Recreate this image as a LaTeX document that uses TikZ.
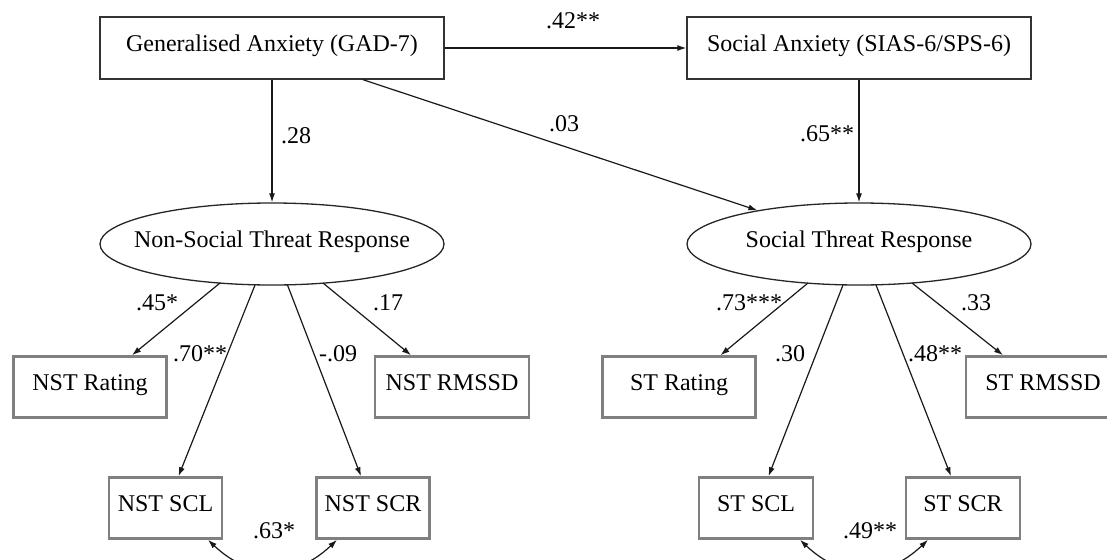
\documentclass[tikz,border=0pt]{standalone}
\usepackage{fontspec}
\setmainfont{Liberation Serif}
\usetikzlibrary{arrows.meta,calc,shapes.geometric}
\begin{document}
\begin{tikzpicture}[x=1pt,y=-1pt,
  every node/.style={font=\fontsize{24}{28}\selectfont, inner sep=0pt},
  topbox/.style={draw=black!80, line width=1.4pt, minimum width=344pt, minimum height=62pt, text height=0.75em, text depth=0pt},
  latent/.style={ellipse, draw=black!85, line width=1.3pt, minimum width=344pt, minimum height=82pt, text height=0.75em, text depth=0pt},
  obsbox/.style={draw=black!50, line width=2.6pt, minimum height=61pt, text height=0.75em, text depth=0pt},
  conn/.style={draw=black!90, line width=1.2pt, -{Latex[length=9pt,width=6pt]}},
  cov/.style={draw=black!90, line width=1.2pt, {Latex[length=9pt,width=6pt]}-{Latex[length=9pt,width=6pt]}},
  coef/.style={text height=0.7em, text depth=0pt},
]
\fill[white] (0,0) rectangle (1107,559);
\useasboundingbox (0,0) rectangle (1107,559);

% main nodes
\node[topbox] (gad) at (272,48) {Generalised Anxiety (GAD-7)};
\node[topbox] (sa) at (859,48) {Social Anxiety (SIAS-6/SPS-6)};
\node[latent] (nst) at (272,244) {\makebox[0pt]{Non-Social Threat Response}};
\node[latent] (st) at (859,244) {\makebox[0pt]{Social Threat Response}};

% indicators
\node[obsbox, minimum width=153pt] (nstr) at (90,387) {NST Rating};
\node[obsbox, minimum width=154pt] (nstm) at (452,387) {NST RMSSD};
\node[obsbox, minimum width=113pt] (nstl) at (165.5,508) {NST SCL};
\node[obsbox, minimum width=113pt] (nsts) at (373,508) {NST SCR};
\node[obsbox, minimum width=153pt] (str) at (679,387) {ST Rating};
\node[obsbox, minimum width=154pt] (stm) at (1043,387) {ST RMSSD};
\node[obsbox, minimum width=114pt] (stl) at (756,508) {ST SCL};
\node[obsbox, minimum width=114pt] (sts) at (963,508) {ST SCR};

% structural paths
\draw[conn] (gad) -- (sa);
\draw[conn] (gad) -- (nst);
\draw[conn] (sa) -- (st);
\draw[conn] ([xshift=91pt]gad.south) -- (st);

% loadings
\draw[conn] ($(nst.center)+(-52,39)$) -- ([xshift=42pt]nstr.north);
\draw[conn] ($(nst.center)+(-17,41)$) -- ([xshift=13pt]nstl.north);
\draw[conn] ($(nst.center)+(15.5,41)$) -- ([xshift=-12pt]nsts.north);
\draw[conn] ($(nst.center)+(51,39)$) -- ([xshift=-41pt]nstm.north);
\draw[conn] ($(st.center)+(-51,39)$) -- ([xshift=41.5pt]str.north);
\draw[conn] ($(st.center)+(-16,41)$) -- ([xshift=12.5pt]stl.north);
\draw[conn] ($(st.center)+(17,41)$) -- ([xshift=-12pt]sts.north);
\draw[conn] ($(st.center)+(53,39)$) -- ([xshift=-40pt]stm.north);

% covariances
\draw[cov] ([xshift=42.5pt]nstl.south) .. controls +(42,40) and +(-42,40) .. ([xshift=-36pt]nsts.south);
\draw[cov] ([xshift=44pt]stl.south) .. controls +(42,40) and +(-42,40) .. ([xshift=-35pt]sts.south);

% coefficients
\node[coef] (c1) at (573,25) {.42**};
\node[coef] (c2) at (296,140) {.28};
\node[coef] (c3) at (564,128) {.03};
\node[coef] (c4) at (827,138) {.65**};
\node[coef] (c5) at (157,307) {.45*};
\node[coef] (c6) at (200,358) {.70**};
\node[coef] (c7) at (338,358) {-.09};
\node[coef] (c8) at (388,307) {.17};
\node[coef] (c9) at (749,307) {.73***};
\node[coef] (c10) at (790,358) {.30};
\node[coef] (c11) at (935,358) {.48**};
\node[coef] (c12) at (976,307) {.33};
\node[coef] (c13) at (274,535) {.63*};
\node[coef] (c14) at (870,535) {.49**};
\end{tikzpicture}
\end{document}
